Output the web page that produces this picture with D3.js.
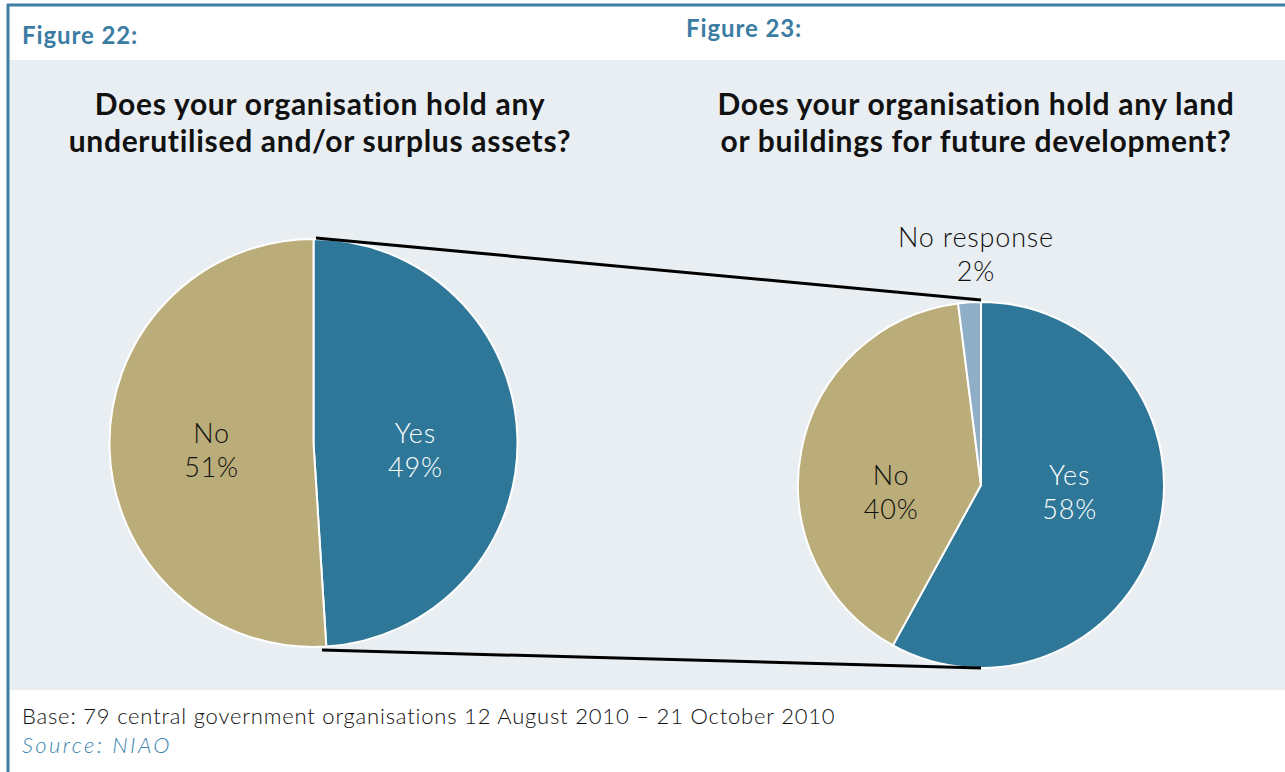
<!DOCTYPE html>
<html lang="en">

<head>
  <meta charset="utf-8">
  <title> Figures 22 and 23 </title>
  <script src="https://d3js.org/d3.v7.min.js"></script>
  <style>
    body {
      margin: 0;
      background: #fff;
      font-family: Lato, "Open Sans", sans-serif;
    }

    .fig {
      font-weight: 700;
      font-size: 24px;
      letter-spacing: 0.9px;
      fill: #3b7ca3;
    }

    .title {
      font-weight: 700;
      font-size: 30px;
      letter-spacing: 0.7px;
      fill: #111;
    }

    .lbl {
      font-weight: 300;
      font-size: 27px;
      letter-spacing: 0.8px;
    }

    .foot {
      font-weight: 300;
      font-size: 22px;
      letter-spacing: 0.8px;
    }
  </style>
</head>

<body>
  <script>
    // Figure 22 data
    var cats22 = ["Yes", "No"];
    var vals22 = [49, 51];
    // Figure 23 data
    var cats23 = ["Yes", "No", "No response"];
    var vals23 = [58, 40, 2];

    var colors = {
      "Yes": "#2e7799",
      "No": "#bbad7a",
      "No response": "#8faec8"
    };

    var W = 1285,
      H = 772;

    var svg = d3.select("body")
      .append("svg")
      .attr("width", W)
      .attr("height", H);

    // background bands
    svg.append("rect").attr("x", 9).attr("y", 60).attr("width", W - 9).attr("height", 630)
      .attr("fill", "#e9eef2");
    svg.append("line").attr("x1", 7).attr("x2", W).attr("y1", 5).attr("y2", 5)
      .attr("stroke", "#3e7fa5").attr("stroke-width", 3);
    svg.append("line").attr("x1", 8).attr("x2", 8).attr("y1", 4).attr("y2", H)
      .attr("stroke", "#3e7fa5").attr("stroke-width", 3);

    svg.append("text").attr("class", "fig").attr("x", 22).attr("y", 44).text("Figure 22:");
    svg.append("text").attr("class", "fig").attr("x", 686).attr("y", 37).text("Figure 23:");

    function title(x, y, lines) {
      var t = svg.append("text").attr("class", "title").attr("text-anchor", "middle");
      lines.forEach(function(l, i) {
        t.append("tspan").attr("x", x).attr("y", y + i * 37).text(l);
      });
    }
    title(320, 115, ["Does your organisation hold any", "underutilised and/or surplus assets?"]);
    title(976, 115, ["Does your organisation hold any land", "or buildings for future development?"]);

    var pie = d3.pie().sort(null).value(function(d) {
      return d.v;
    });

    function drawPie(cats, vals, cx, cy, r) {
      var data = cats.map(function(c, i) {
        return { c: c, v: vals[i] };
      });
      var arcs = pie(data);
      var arc = d3.arc().innerRadius(0).outerRadius(r);
      var g = svg.append("g").attr("transform", "translate(" + cx + "," + cy + ")");
      g.selectAll("path")
        .data(arcs)
        .enter().append("path")
        .attr("d", arc)
        .attr("fill", function(d) {
          return colors[d.data.c];
        })
        .attr("stroke", "#fff")
        .attr("stroke-width", 2);

      // small slices get their label outside, above the pie
      var outArc = d3.arc().innerRadius(r + 40).outerRadius(r + 40);
      arcs.forEach(function(d) {
        var small = d.data.v < 5;
        var p = small ? outArc.centroid(d) : arc.centroid(d);
        var x = small ? p[0] + 9 : p[0];
        var y = small ? -r - 55 : 0;
        var t = g.append("text").attr("class", "lbl").attr("text-anchor", "middle")
          .attr("fill", d.data.c == "Yes" ? "#fff" : "#111");
        t.append("tspan").attr("x", x).attr("y", y).text(d.data.c);
        t.append("tspan").attr("x", x).attr("y", y + 34).text(d.data.v + "%");
      });
      return arcs;
    }

    var arcs22 = drawPie(cats22, vals22, 313.5, 443, 204);
    var arcs23 = drawPie(cats23, vals23, 981, 485, 183);

    // connector lines
    var conn = svg.append("g").attr("stroke", "#000").attr("stroke-width", 3);
    conn.append("line").attr("x1", 316).attr("y1", 238).attr("x2", 981).attr("y2", 300);
    conn.append("line").attr("x1", 322).attr("y1", 650).attr("x2", 981).attr("y2", 668);

    svg.append("text").attr("class", "foot").attr("x", 22).attr("y", 724)
      .attr("fill", "#111")
      .text("Base: 79 central government organisations 12 August 2010 \u2013 21 October 2010");
    svg.append("text").attr("class", "foot").attr("x", 22).attr("y", 753)
      .attr("font-style", "italic").attr("fill", "#3b86b0")
      .style("letter-spacing", "2.4px")
      .text("Source: NIAO");
  </script>
</body>

</html>
